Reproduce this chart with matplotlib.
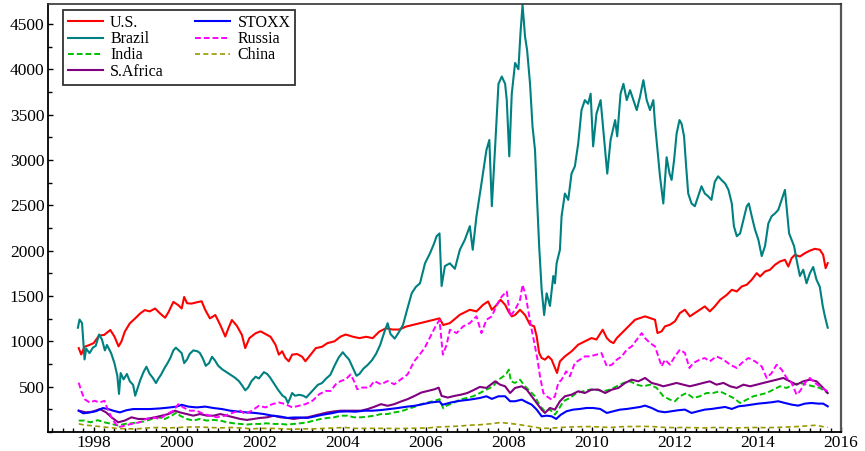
import matplotlib
matplotlib.use("Agg")
import matplotlib.pyplot as plt
from matplotlib.ticker import MultipleLocator, FixedLocator

# ---------------- data ----------------
us_t = [1997.64, 1997.70, 1997.78, 1997.90, 1998.00, 1998.13, 1998.25, 1998.40, 1998.50, 1998.60, 1998.67, 1998.75, 1998.87,
        1999.00, 1999.12, 1999.23, 1999.35, 1999.48, 1999.60, 1999.72, 1999.80, 1999.92, 2000.04, 2000.12, 2000.18, 2000.25,
        2000.36, 2000.48, 2000.60, 2000.69, 2000.80, 2000.93, 2001.05, 2001.17, 2001.25, 2001.33, 2001.45, 2001.57, 2001.65,
        2001.75, 2001.90, 2002.02, 2002.14, 2002.26, 2002.38, 2002.46, 2002.54, 2002.62, 2002.70, 2002.78, 2002.90, 2003.02,
        2003.10, 2003.22, 2003.35, 2003.50, 2003.63, 2003.80, 2003.95, 2004.07, 2004.25, 2004.40, 2004.56, 2004.72, 2004.88,
        2005.04, 2005.20, 2005.36, 2005.52, 2005.68, 2005.85, 2006.00, 2006.17, 2006.33, 2006.42, 2006.58, 2006.82, 2007.06,
        2007.22, 2007.38, 2007.50, 2007.59, 2007.71, 2007.80, 2007.91, 2007.99, 2008.07, 2008.15, 2008.27, 2008.39, 2008.51,
        2008.61, 2008.67, 2008.73, 2008.79, 2008.87, 2008.95, 2009.03, 2009.11, 2009.16, 2009.23, 2009.35, 2009.51, 2009.67,
        2009.83, 2009.99, 2010.11, 2010.26, 2010.36, 2010.44, 2010.52, 2010.60, 2010.72, 2010.88, 2011.04, 2011.16, 2011.28,
        2011.40, 2011.52, 2011.58, 2011.68, 2011.76, 2011.88, 2012.00, 2012.12, 2012.24, 2012.36, 2012.48, 2012.60, 2012.72,
        2012.84, 2012.96, 2013.09, 2013.25, 2013.37, 2013.49, 2013.61, 2013.73, 2013.85, 2013.97, 2014.05, 2014.17, 2014.29,
        2014.41, 2014.53, 2014.65, 2014.73, 2014.81, 2014.89, 2015.01, 2015.13, 2015.25, 2015.37, 2015.49, 2015.57, 2015.63,
        2015.68]
us_v = [925, 855, 940, 960, 980, 1064, 1070, 1125, 1053, 944, 1000, 1107, 1198,
        1253, 1307, 1344, 1330, 1362, 1307, 1260, 1320, 1435, 1398, 1362, 1489, 1420,
        1416, 1430, 1442, 1344, 1253, 1290, 1180, 1053, 1150, 1235, 1170, 1071, 925,
        1035, 1089, 1110, 1080, 1050, 962, 853, 890, 816, 780, 853, 860, 830,
        780, 850, 925, 940, 980, 1000, 1053, 1075, 1050, 1035, 1050, 1035, 1107,
        1144, 1130, 1130, 1162, 1180, 1198, 1216, 1235, 1253, 1180, 1201, 1293, 1348,
        1330, 1403, 1440, 1348, 1403, 1458, 1403, 1330, 1275, 1290, 1348, 1290, 1183,
        1165, 1055, 871, 816, 798, 834, 798, 706, 651, 779, 834, 889, 963,
        999, 1036, 1020, 1128, 1036, 999, 980, 1036, 1091, 1165, 1238, 1256, 1275,
        1256, 1238, 1091, 1110, 1165, 1183, 1220, 1312, 1348, 1275, 1312, 1348, 1385,
        1330, 1385, 1458, 1513, 1568, 1550, 1605, 1624, 1679, 1752, 1715, 1770, 1789,
        1844, 1881, 1899, 1825, 1917, 1954, 1935, 1972, 2000, 2020, 2010, 1954, 1807,
        1862]

stoxx_t = [1997.64, 1997.75, 1997.90, 1998.06, 1998.22, 1998.35, 1998.47, 1998.63, 1998.79, 1998.95, 1999.11, 1999.35,
           1999.60, 1999.84, 2000.00, 2000.12, 2000.28, 2000.48, 2000.69, 2000.89, 2001.09, 2001.29, 2001.49, 2001.69,
           2001.89, 2002.10, 2002.30, 2002.50, 2002.66, 2002.82, 2002.98, 2003.15, 2003.31, 2003.51, 2003.71, 2003.91,
           2004.11, 2004.31, 2004.52, 2004.72, 2004.92, 2005.12, 2005.32, 2005.52, 2005.73, 2005.93, 2006.13, 2006.33,
           2006.40, 2006.61, 2006.82, 2007.06, 2007.30, 2007.46, 2007.59, 2007.75, 2007.91, 2008.03, 2008.15, 2008.31,
           2008.43, 2008.55, 2008.67, 2008.79, 2008.91, 2009.03, 2009.14, 2009.25, 2009.39, 2009.55, 2009.71, 2009.87,
           2010.03, 2010.20, 2010.36, 2010.52, 2010.68, 2010.84, 2011.00, 2011.16, 2011.28, 2011.44, 2011.60, 2011.76,
           2011.92, 2012.08, 2012.24, 2012.40, 2012.56, 2012.72, 2012.88, 2013.04, 2013.21, 2013.37, 2013.53, 2013.69,
           2013.85, 2014.01, 2014.17, 2014.33, 2014.49, 2014.65, 2014.81, 2014.97, 2015.13, 2015.29, 2015.45, 2015.57,
           2015.68]
stoxx_v = [235, 206, 215, 230, 264, 253, 235, 216, 240, 253, 253, 253,
           260, 271, 280, 300, 280, 271, 280, 264, 253, 235, 225, 216,
           210, 198, 180, 170, 155, 160, 160, 155, 170, 190, 205, 224,
           227, 224, 235, 235, 242, 253, 264, 278, 289, 307, 326, 336,
           300, 326, 344, 357, 375, 394, 365, 394, 394, 339, 339, 357,
           328, 302, 247, 173, 180, 173, 144, 190, 229, 247, 254, 265,
           265, 254, 210, 229, 247, 254, 265, 276, 291, 265, 229, 218,
           229, 240, 247, 210, 229, 247, 254, 265, 276, 254, 283, 291,
           302, 313, 320, 328, 339, 320, 302, 291, 313, 320, 313, 313,
           283]

brazil_t = [1997.62, 1997.66, 1997.72, 1997.78, 1997.82, 1997.90, 1997.98, 1998.05, 1998.13, 1998.20, 1998.27, 1998.32,
            1998.42, 1998.50, 1998.57, 1998.61, 1998.65, 1998.72, 1998.80, 1998.87, 1998.95, 1999.00, 1999.05, 1999.12,
            1999.20, 1999.27, 1999.35, 1999.42, 1999.50, 1999.56, 1999.62, 1999.70, 1999.78, 1999.85, 1999.92, 1999.98,
            2000.05, 2000.12, 2000.18, 2000.25, 2000.31, 2000.40, 2000.50, 2000.56, 2000.63, 2000.70, 2000.78, 2000.85,
            2000.92, 2001.00, 2001.10, 2001.20, 2001.30, 2001.40, 2001.50, 2001.58, 2001.65, 2001.72, 2001.80, 2001.90,
            2001.98, 2002.05, 2002.10, 2002.18, 2002.25, 2002.35, 2002.45, 2002.55, 2002.62, 2002.68, 2002.72, 2002.78,
            2002.85, 2002.95, 2003.05, 2003.12, 2003.20, 2003.30, 2003.40, 2003.50, 2003.60, 2003.70, 2003.80, 2003.90,
            2004.00, 2004.07, 2004.15, 2004.25, 2004.33, 2004.40, 2004.50, 2004.60, 2004.70, 2004.80, 2004.90, 2005.00,
            2005.08, 2005.15, 2005.25, 2005.35, 2005.45, 2005.55, 2005.66, 2005.76, 2005.86, 2005.98, 2006.10, 2006.20,
            2006.26, 2006.33, 2006.38, 2006.46, 2006.58, 2006.70, 2006.82, 2006.94, 2007.06, 2007.13, 2007.22, 2007.34,
            2007.46, 2007.53, 2007.59, 2007.67, 2007.75, 2007.83, 2007.91, 2007.95, 2008.01, 2008.07, 2008.15, 2008.23,
            2008.28, 2008.33, 2008.39, 2008.44, 2008.51, 2008.57, 2008.63, 2008.68, 2008.73, 2008.79, 2008.85, 2008.91,
            2008.99, 2009.07, 2009.11, 2009.15, 2009.23, 2009.27, 2009.35, 2009.43, 2009.51, 2009.59, 2009.67, 2009.75,
            2009.83, 2009.91, 2009.97, 2010.03, 2010.11, 2010.21, 2010.29, 2010.37, 2010.45, 2010.56, 2010.61, 2010.69,
            2010.76, 2010.84, 2010.92, 2011.00, 2011.08, 2011.16, 2011.24, 2011.32, 2011.40, 2011.48, 2011.52, 2011.58,
            2011.64, 2011.72, 2011.80, 2011.87, 2011.92, 2011.98, 2012.04, 2012.11, 2012.16, 2012.22, 2012.27, 2012.32,
            2012.40, 2012.48, 2012.56, 2012.64, 2012.72, 2012.80, 2012.88, 2012.96, 2013.04, 2013.12, 2013.21, 2013.29,
            2013.37, 2013.42, 2013.49, 2013.57, 2013.65, 2013.73, 2013.78, 2013.85, 2013.93, 2014.01, 2014.09, 2014.17,
            2014.25, 2014.33, 2014.41, 2014.49, 2014.57, 2014.65, 2014.71, 2014.75, 2014.81, 2014.87, 2014.93, 2015.01,
            2015.09, 2015.17, 2015.25, 2015.33, 2015.41, 2015.49, 2015.56, 2015.61, 2015.68]
brazil_v = [1150, 1240, 1200, 800, 920, 870, 930, 950, 1075, 1020, 900, 960,
            870, 760, 620, 420, 650, 580, 640, 560, 520, 400, 470, 570,
            660, 720, 640, 600, 540, 590, 630, 700, 760, 820, 900, 930,
            900, 870, 760, 800, 860, 900, 890, 870, 810, 730, 760, 830,
            790, 730, 690, 660, 630, 600, 560, 510, 460, 490, 560, 610,
            590, 630, 660, 640, 600, 530, 460, 400, 380, 320, 360, 430,
            400, 410, 400, 380, 420, 470, 520, 540, 590, 630, 730, 820,
            880, 840, 800, 700, 620, 640, 700, 740, 790, 860, 960, 1100,
            1200, 1080, 1030, 1100, 1180, 1350, 1530, 1600, 1640, 1860, 1970, 2080,
            2160, 2190, 1610, 1830, 1860, 1800, 2010, 2120, 2270, 2010, 2380, 2740,
            3110, 3220, 2490, 3150, 3840, 3920, 3840, 3660, 3040, 3730, 4070, 4000,
            4400, 4710, 4360, 4210, 3840, 3370, 3110, 2560, 2050, 1570, 1290, 1530,
            1390, 1720, 1640, 1860, 2010, 2380, 2630, 2560, 2850, 2930, 3180, 3550,
            3660, 3620, 3730, 3150, 3510, 3660, 3260, 2850, 3220, 3440, 3260, 3730,
            3840, 3660, 3770, 3660, 3550, 3700, 3880, 3660, 3550, 3660, 3400, 3110,
            2820, 2520, 3030, 2850, 2780, 3000, 3290, 3440, 3400, 3260, 2930, 2630,
            2520, 2490, 2600, 2710, 2630, 2600, 2560, 2760, 2820, 2780, 2740, 2670,
            2520, 2270, 2160, 2190, 2340, 2490, 2520, 2380, 2230, 2120, 1940, 2050,
            2300, 2380, 2410, 2450, 2560, 2670, 2380, 2190, 2120, 2050, 1900, 1720,
            1790, 1640, 1750, 1820, 1680, 1600, 1390, 1280, 1150]

russia_t = [1997.64, 1997.70, 1997.78, 1997.90, 1998.02, 1998.14, 1998.26, 1998.35, 1998.47, 1998.60, 1998.75, 1998.91,
            1999.11, 1999.27, 1999.44, 1999.60, 1999.76, 1999.92, 2000.04, 2000.16, 2000.32, 2000.48, 2000.65, 2000.81,
            2000.97, 2001.17, 2001.37, 2001.53, 2001.65, 2001.81, 2001.98, 2002.14, 2002.30, 2002.46, 2002.62, 2002.78,
            2002.94, 2003.10, 2003.27, 2003.43, 2003.59, 2003.71, 2003.83, 2003.95, 2004.07, 2004.19, 2004.27, 2004.35,
            2004.47, 2004.64, 2004.76, 2004.92, 2005.08, 2005.24, 2005.40, 2005.56, 2005.72, 2005.85, 2005.97, 2006.09,
            2006.25, 2006.33, 2006.41, 2006.50, 2006.58, 2006.74, 2006.90, 2007.06, 2007.22, 2007.34, 2007.46, 2007.59,
            2007.71, 2007.83, 2007.95, 2008.03, 2008.15, 2008.27, 2008.33, 2008.41, 2008.47, 2008.55, 2008.63, 2008.69,
            2008.75, 2008.83, 2008.91, 2009.03, 2009.11, 2009.19, 2009.27, 2009.38, 2009.47, 2009.59, 2009.71, 2009.83,
            2009.95, 2010.11, 2010.23, 2010.36, 2010.48, 2010.60, 2010.72, 2010.84, 2010.96, 2011.08, 2011.20, 2011.28,
            2011.40, 2011.52, 2011.60, 2011.68, 2011.76, 2011.88, 2012.00, 2012.12, 2012.24, 2012.35, 2012.44, 2012.60,
            2012.72, 2012.84, 2013.00, 2013.17, 2013.33, 2013.49, 2013.61, 2013.77, 2013.93, 2014.09, 2014.21, 2014.33,
            2014.45, 2014.57, 2014.69, 2014.81, 2014.93, 2015.01, 2015.13, 2015.25, 2015.37, 2015.49, 2015.61, 2015.68]
russia_v = [544, 453, 362, 326, 344, 326, 344, 235, 126, 53, 71, 89,
            107, 144, 160, 144, 198, 235, 307, 270, 235, 235, 198, 180,
            162, 180, 216, 235, 198, 235, 289, 271, 307, 326, 307, 271,
            289, 307, 344, 416, 453, 453, 526, 562, 580, 635, 562, 471,
            490, 490, 562, 526, 562, 526, 580, 635, 780, 853, 925, 1035,
            1180, 1235, 853, 960, 1128, 1091, 1165, 1201, 1275, 1091, 1238, 1275,
            1403, 1495, 1550, 1275, 1348, 1458, 1624, 1495, 1330, 1128, 944, 798,
            614, 430, 394, 357, 394, 541, 577, 669, 614, 761, 798, 834,
            834, 853, 871, 724, 742, 798, 834, 908, 944, 1018, 1091, 1036,
            981, 944, 834, 724, 798, 742, 834, 908, 871, 706, 761, 798,
            816, 779, 834, 798, 742, 706, 761, 816, 779, 724, 596, 651,
            742, 688, 596, 541, 412, 449, 541, 596, 541, 504, 467, 449]

india_t = [1997.64, 1997.78, 1997.92, 1998.10, 1998.26, 1998.43, 1998.59, 1998.75, 1998.91, 1999.07, 1999.23, 1999.40,
           1999.56, 1999.72, 1999.88, 2000.00, 2000.08, 2000.24, 2000.40, 2000.56, 2000.72, 2000.89, 2001.05, 2001.21,
           2001.37, 2001.53, 2001.69, 2001.85, 2002.00, 2002.16, 2002.34, 2002.50, 2002.66, 2002.82, 2002.98, 2003.15,
           2003.31, 2003.47, 2003.63, 2003.79, 2003.95, 2004.11, 2004.27, 2004.44, 2004.60, 2004.76, 2004.92, 2005.08,
           2005.24, 2005.40, 2005.56, 2005.73, 2005.89, 2006.05, 2006.21, 2006.33, 2006.42, 2006.50, 2006.66, 2006.82,
           2006.98, 2007.14, 2007.30, 2007.46, 2007.62, 2007.75, 2007.87, 2007.95, 2008.00, 2008.05, 2008.15, 2008.27,
           2008.39, 2008.51, 2008.63, 2008.75, 2008.87, 2008.99, 2009.11, 2009.20, 2009.31, 2009.47, 2009.63, 2009.79,
           2009.95, 2010.11, 2010.27, 2010.43, 2010.60, 2010.76, 2010.92, 2011.08, 2011.24, 2011.40, 2011.56, 2011.72,
           2011.88, 2012.00, 2012.12, 2012.28, 2012.44, 2012.60, 2012.76, 2012.92, 2013.08, 2013.25, 2013.41, 2013.57,
           2013.73, 2013.89, 2014.05, 2014.21, 2014.37, 2014.53, 2014.69, 2014.85, 2015.01, 2015.17, 2015.33, 2015.49,
           2015.68]
india_v = [126, 126, 107, 130, 107, 89, 71, 89, 96, 107, 118, 144,
           162, 144, 180, 216, 180, 144, 126, 144, 126, 133, 126, 107,
           96, 89, 82, 89, 89, 96, 89, 89, 82, 89, 96, 107,
           126, 144, 155, 162, 180, 180, 162, 162, 170, 180, 198, 198,
           216, 227, 253, 278, 307, 326, 344, 362, 260, 290, 320, 357,
           375, 394, 430, 467, 504, 577, 614, 651, 688, 559, 541, 577,
           504, 449, 394, 284, 229, 247, 192, 250, 339, 375, 430, 449,
           467, 467, 449, 467, 504, 541, 559, 522, 504, 522, 486, 394,
           357, 339, 394, 430, 375, 394, 430, 430, 449, 412, 375, 320,
           357, 394, 412, 430, 467, 504, 486, 522, 541, 522, 504, 486,
           430]

china_t = [1997.64, 1997.80, 1997.95, 1998.15, 1998.35, 1998.55, 1998.80, 1999.05, 1999.30, 1999.55, 1999.80, 2000.05,
           2000.30, 2000.55, 2000.80, 2001.05, 2001.30, 2001.55, 2001.80, 2002.05, 2002.30, 2002.55, 2002.80, 2003.05,
           2003.30, 2003.55, 2003.80, 2004.05, 2004.30, 2004.55, 2004.80, 2005.05, 2005.30, 2005.55, 2005.80, 2006.05,
           2006.30, 2006.55, 2006.80, 2007.05, 2007.30, 2007.55, 2007.80, 2008.00, 2008.20, 2008.40, 2008.60, 2008.80,
           2009.00, 2009.20, 2009.45, 2009.70, 2009.95, 2010.20, 2010.45, 2010.70, 2010.95, 2011.20, 2011.45, 2011.70,
           2011.95, 2012.20, 2012.45, 2012.70, 2012.95, 2013.20, 2013.45, 2013.70, 2013.95, 2014.20, 2014.45, 2014.70,
           2014.95, 2015.20, 2015.40, 2015.55, 2015.68]
china_v = [90, 75, 70, 60, 50, 40, 35, 35, 45, 50, 45, 50,
           55, 55, 50, 45, 50, 45, 35, 40, 40, 35, 30, 35,
           35, 40, 45, 50, 40, 40, 40, 40, 38, 40, 42, 45,
           55, 60, 65, 75, 80, 90, 105, 95, 85, 70, 55, 40,
           42, 48, 55, 58, 60, 55, 50, 58, 60, 62, 60, 52,
           48, 50, 48, 45, 50, 48, 45, 48, 50, 48, 50, 55,
           60, 68, 75, 60, 52]

safrica_t = [1997.64, 1997.82, 1997.98, 1998.15, 1998.30, 1998.43, 1998.59, 1998.75, 1998.91, 1999.07, 1999.27, 1999.48,
             1999.64, 1999.80, 1999.96, 2000.08, 2000.24, 2000.40, 2000.56, 2000.73, 2000.89, 2001.05, 2001.21, 2001.37,
             2001.53, 2001.69, 2001.85, 2002.01, 2002.18, 2002.34, 2002.50, 2002.66, 2002.82, 2002.98, 2003.15, 2003.31,
             2003.47, 2003.63, 2003.79, 2003.95, 2004.11, 2004.27, 2004.44, 2004.60, 2004.76, 2004.92, 2005.08, 2005.24,
             2005.40, 2005.56, 2005.73, 2005.89, 2006.05, 2006.21, 2006.31, 2006.38, 2006.53, 2006.69, 2006.85, 2007.00,
             2007.14, 2007.30, 2007.46, 2007.67, 2007.79, 2007.91, 2008.03, 2008.15, 2008.31, 2008.43, 2008.55, 2008.67,
             2008.79, 2008.87, 2008.99, 2009.11, 2009.23, 2009.35, 2009.51, 2009.67, 2009.83, 2009.99, 2010.16, 2010.32,
             2010.48, 2010.64, 2010.80, 2010.96, 2011.12, 2011.28, 2011.44, 2011.60, 2011.72, 2011.88, 2012.04, 2012.20,
             2012.36, 2012.52, 2012.68, 2012.84, 2013.00, 2013.17, 2013.33, 2013.49, 2013.65, 2013.81, 2013.97, 2014.13,
             2014.29, 2014.45, 2014.61, 2014.77, 2014.93, 2015.09, 2015.25, 2015.41, 2015.57, 2015.68]
safrica_v = [235, 216, 225, 253, 216, 162, 107, 126, 162, 144, 144, 162,
             180, 198, 235, 216, 198, 180, 198, 180, 180, 198, 180, 162,
             144, 133, 144, 155, 162, 180, 162, 155, 144, 155, 162, 180,
             198, 216, 227, 235, 235, 235, 235, 253, 278, 307, 289, 307,
             336, 362, 398, 435, 453, 471, 489, 398, 380, 398, 412, 430,
             460, 497, 486, 559, 522, 504, 430, 486, 504, 467, 394, 320,
             247, 210, 265, 247, 339, 394, 412, 449, 430, 467, 467, 430,
             467, 486, 541, 577, 559, 596, 541, 522, 504, 522, 541, 522,
             504, 522, 541, 559, 522, 541, 504, 486, 522, 504, 522, 541,
             559, 577, 596, 559, 522, 559, 577, 559, 486, 430]

x_ticks = [1998, 2000, 2002, 2004, 2006, 2008, 2010, 2012, 2014, 2016]
y_ticks = [500, 1000, 1500, 2000, 2500, 3000, 3500, 4000, 4500]

# ---------------- figure ----------------
plt.rcParams['font.family'] = ['Liberation Serif', 'DejaVu Serif']

fig = plt.figure(figsize=(8.65, 4.51), dpi=100)
ax = fig.add_axes([48 / 865, 1 - 432 / 451, (841 - 48) / 865, (432 - 4) / 451])

ax.plot(us_t, us_v, color='#ff0000', lw=1.5, label='U.S.')
ax.plot(brazil_t, brazil_v, color='#008080', lw=1.5, label='Brazil')
ax.plot(india_t, india_v, color='#00c000', lw=1.4, ls=(0, (3, 1.5)), label='India')
ax.plot(safrica_t, safrica_v, color='#800080', lw=1.5, label='S.Africa')
ax.plot(stoxx_t, stoxx_v, color='#0000ff', lw=1.5, label='STOXX')
ax.plot(russia_t, russia_v, color='#ff00ff', lw=1.4, ls=(0, (3, 1.5)), label='Russia')
ax.plot(china_t, china_v, color='#999900', lw=1.2, ls=(0, (3, 2)), label='China')

ax.set_xlim(1996.9, 2016.0)
ax.set_ylim(0, 4720)
ax.xaxis.set_major_locator(FixedLocator(x_ticks))
ax.xaxis.set_minor_locator(MultipleLocator(0.25))
ax.yaxis.set_major_locator(FixedLocator(y_ticks))
ax.yaxis.set_minor_locator(MultipleLocator(250))
ax.set_xticklabels([str(t) for t in x_ticks])
ax.set_yticklabels([str(t) for t in y_ticks])

ax.tick_params(which='both', direction='in', color='black', width=1.0)
ax.tick_params(which='major', length=3.8, labelsize=12.5, pad=2.5)
ax.tick_params(which='minor', length=2.6)

for side in ['left', 'bottom']:
    ax.spines[side].set_linewidth(1.3)
    ax.spines[side].set_color('black')
ax.spines['top'].set_linewidth(1.2)
ax.spines['top'].set_color('#333333')
ax.spines['right'].set_linewidth(1.6)
ax.spines['right'].set_color('#555555')

leg = ax.legend(ncol=2, loc='upper left', bbox_to_anchor=(0.019, 0.986), borderaxespad=0,
                fontsize=11.5, handlelength=2.2, handletextpad=0.45, labelspacing=0.02,
                columnspacing=1.95, borderpad=0.3, frameon=True, fancybox=False)
leg.get_frame().set_edgecolor('black')
leg.get_frame().set_linewidth(1.3)

fig.savefig('out.png', dpi=100)
